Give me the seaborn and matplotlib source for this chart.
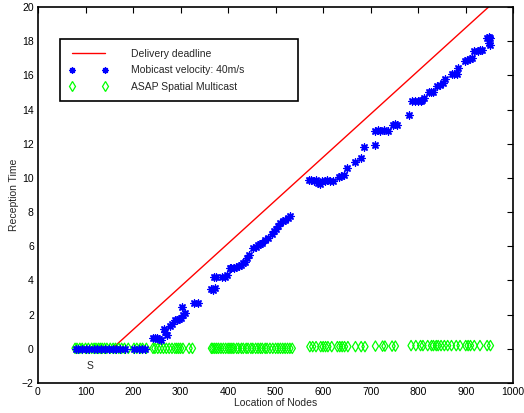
import matplotlib
matplotlib.use("Agg")
import matplotlib.pyplot as plt
from matplotlib.lines import Line2D
from matplotlib.patches import Rectangle
import seaborn as sns

# Delivery deadline line
deadline_x = [156, 948]
deadline_y = [0, 20]

# Mobicast velocity 40 m/s
mobi_x = [80, 85, 92, 100, 108, 118, 125, 133, 142, 150, 158, 165, 172, 184, 203, 212, 218, 225,
          242, 246, 250, 255, 258, 265, 268, 271, 278, 281, 288, 292, 296, 300, 302, 305, 309,
          328, 336, 364, 369, 372, 370, 374, 388, 393, 398,
          403, 407, 412, 417, 422, 427, 432, 436, 440, 444, 452, 458, 463, 468,
          472, 478, 485, 492, 497, 501, 506, 510, 515, 520, 525, 530,
          570, 575, 580, 585, 590, 594, 598, 603, 608, 614, 620,
          633, 638, 643, 650, 666, 680, 687, 710, 709, 715, 720, 727, 737, 748, 752, 755,
          780, 787, 793, 800, 805, 808, 813, 822, 827, 832, 840, 846, 852, 857, 871, 876, 881,
          884, 898, 903, 908, 913, 917, 926, 930, 934, 945, 948, 952, 950, 952]
mobi_y = [0, 0, 0, 0, 0, 0, 0, 0, 0, 0, 0, 0, 0, 0, 0, 0, 0, 0,
          0.65, 0.62, 0.6, 0.55, 0.5, 1.15, 0.95, 0.8, 1.3, 1.45, 1.65, 1.7, 1.75, 1.8, 2.43, 2.0, 2.1,
          2.65, 2.65, 3.5, 3.45, 3.55, 4.2, 4.2, 4.2, 4.2, 4.3,
          4.75, 4.7, 4.7, 4.8, 4.85, 4.9, 5.0, 5.1, 5.3, 5.5, 5.9, 5.95, 6.05, 6.1,
          6.2, 6.35, 6.5, 6.7, 6.9, 7.0, 7.2, 7.35, 7.5, 7.55, 7.65, 7.75,
          9.85, 9.85, 9.8, 9.85, 9.7, 9.65, 9.8, 9.8, 9.85, 9.8, 9.8,
          10.05, 10.1, 10.15, 10.6, 10.9, 11.15, 11.8, 11.95, 12.75, 12.8, 12.75, 12.8, 12.75, 13.1, 13.15, 13.1,
          13.7, 14.5, 14.5, 14.5, 14.5, 14.55, 14.7, 15.0, 15.0, 15.05, 15.4, 15.45, 15.55, 15.8, 16.05, 16.1, 16.1,
          16.45, 16.85, 16.9, 16.95, 17.0, 17.4, 17.45, 17.5, 17.5, 18.2, 18.25, 18.2, 17.9, 17.75]

# ASAP Spatial Multicast
asap_x = [78, 82, 88, 93, 100, 106, 113, 118, 122, 127, 131, 135, 140, 145, 152, 158, 163, 170, 176,
          182, 190, 202, 208, 215, 220, 228,
          242, 246, 252, 258, 264, 270, 276, 282, 288, 292, 296, 300, 305, 318, 325,
          365, 368, 372, 376, 380, 385, 390, 395, 400, 404, 408, 412, 418, 422, 428, 432, 438, 442,
          448, 452, 458, 463, 468, 472, 478, 482, 488, 494, 500, 505, 510, 515, 520, 525, 530, 535,
          572, 578, 585, 595, 600, 605, 610, 618, 630, 635, 640, 645, 652, 668, 680, 688,
          710, 725, 730, 745, 752,
          785, 795, 805, 810, 820, 828, 832, 838, 842, 848, 855, 862, 870, 880, 888, 900, 905, 910,
          918, 930, 945, 952]
asap_y = [0.02] * 77 + [0.12] * 16 + [0.15] * 5 + [0.18] * 22

labels = ["Delivery deadline", "Mobicast velocity: 40m/s", "ASAP Spatial Multicast"]
RED, BLUE, GREEN = "#ff0000", "#0000ff", "#00ff00"

sns.set_theme(style="white")
plt.rcParams["font.family"] = ["Liberation Sans", "DejaVu Sans"]
plt.rcParams["font.size"] = 7.5

fig = plt.figure(figsize=(5.24, 4.13), dpi=100)
ax = fig.add_axes([0.0725, 0.073, 0.907, 0.910])

sns.lineplot(x=deadline_x, y=deadline_y, ax=ax, color=RED, linewidth=1.0)
sns.scatterplot(x=asap_x, y=asap_y, ax=ax, marker="d", s=28, color=GREEN,
                facecolors="none", edgecolor=GREEN, linewidth=0.9, zorder=3)
sns.scatterplot(x=mobi_x, y=mobi_y, ax=ax, marker=(8, 2, 0), s=26, color=BLUE,
                edgecolor=BLUE, linewidth=1.0, zorder=4)

ax.set_xlim(0, 1000)
ax.set_ylim(-2, 20)
ax.set_xticks(range(0, 1001, 100))
ax.set_yticks(range(-2, 21, 2))
ax.tick_params(direction="in", top=True, right=True, length=4, width=0.8,
               labelsize=7.5, colors="black", pad=3)
for sp in ax.spines.values():
    sp.set_color("black")
    sp.set_linewidth(1.2)
ax.set_xlabel("Location of Nodes", fontsize=7.5, labelpad=1)
ax.set_ylabel("Reception Time", fontsize=7.5, labelpad=2)
ax.text(109, -1.0, "S", fontsize=7.5, ha="center", va="center")

# legend frame (MATLAB-style box, wider than its content)
ax.add_patch(Rectangle((0.0463, 0.750), 0.501, 0.165, transform=ax.transAxes,
                       facecolor="white", edgecolor="black", linewidth=1.2, zorder=5))

handles = [
    Line2D([], [], color=RED, linewidth=1.0),
    Line2D([], [], color=BLUE, linestyle="none", marker=(8, 2, 0), markersize=4.5,
           markeredgewidth=1.0),
    Line2D([], [], color=GREEN, linestyle="none", marker="d", markersize=5.5,
           markerfacecolor="none", markeredgewidth=0.9),
]
leg = ax.legend(handles, labels, loc="upper left", bbox_to_anchor=(0.046, 0.913),
                numpoints=2, handlelength=3.7, handletextpad=2.2, borderpad=0.9,
                labelspacing=0.6, fontsize=7.5, frameon=False, borderaxespad=0)
leg.set_zorder(6)

fig.savefig("out.png", dpi=100)
